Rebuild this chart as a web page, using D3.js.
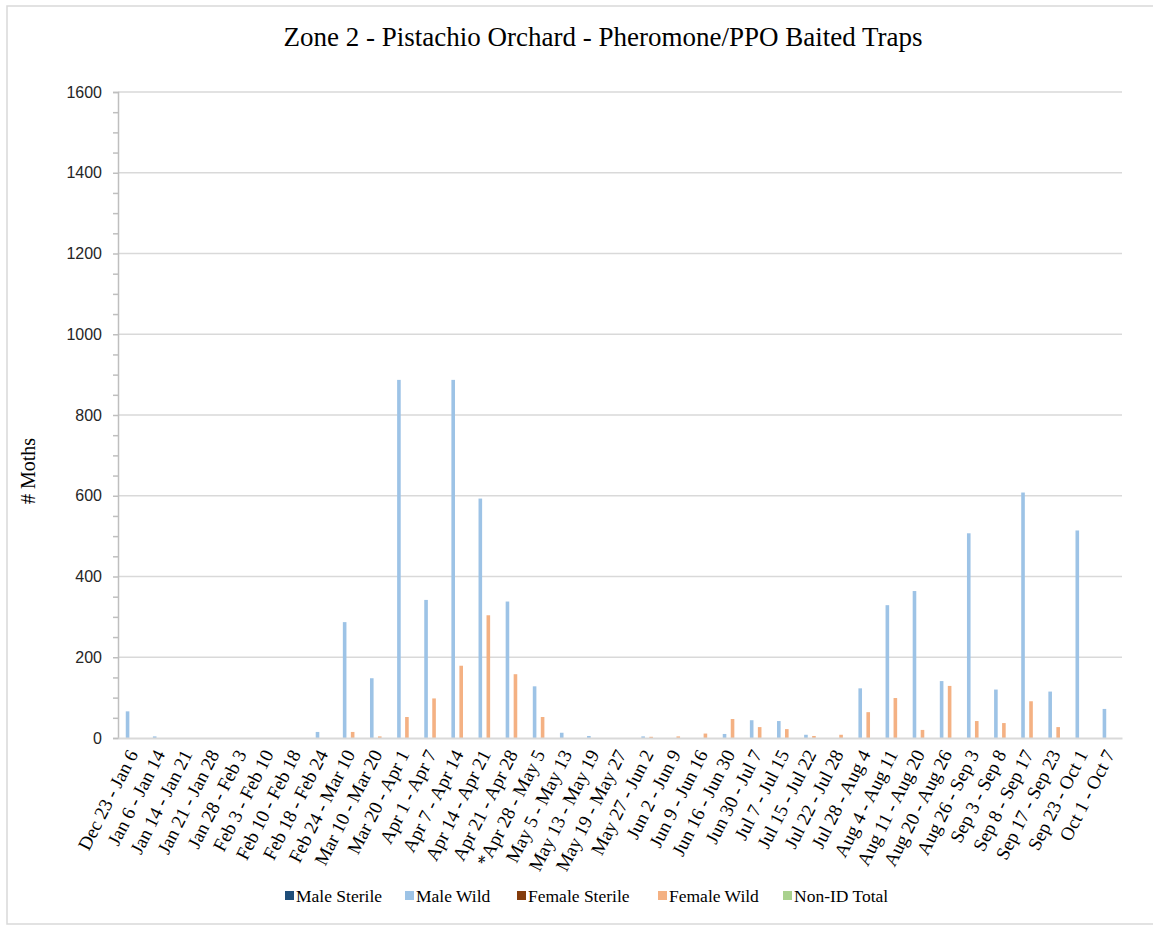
<!DOCTYPE html>
<html>
<head>
<meta charset="utf-8">
<script src="https://cdn.jsdelivr.net/npm/d3@7"></script>
<style>
  html, body { margin: 0; padding: 0; background: #fff; }
  svg { display: block; }
</style>
</head>
<body>
<svg id="chart" width="1153" height="925"></svg>
<script>
const titleText = "Zone 2 - Pistachio Orchard - Pheromone/PPO Baited Traps";
const yLabel = "# Moths";

const categories = [
  "Dec 23 - Jan 6", "Jan 6 - Jan 14", "Jan 14 - Jan 21", "Jan 21 - Jan 28",
  "Jan 28 - Feb 3", "Feb 3 - Feb 10", "Feb 10 - Feb 18", "Feb 18 - Feb 24",
  "Feb 24 - Mar 10", "Mar 10 - Mar 20", "Mar 20 - Apr 1", "Apr 1 - Apr 7",
  "Apr 7 - Apr 14", "Apr 14 - Apr 21", "Apr 21 - Apr 28", "*Apr 28 - May 5",
  "May 5 - May 13", "May 13 - May 19", "May 19 - May 27", "May 27 - Jun 2",
  "Jun 2 - Jun 9", "Jun 9 - Jun 16", "Jun 16 - Jun 30", "Jun 30 - Jul 7",
  "Jul 7 - Jul 15", "Jul 15 - Jul 22", "Jul 22 - Jul 28", "Jul 28 - Aug 4",
  "Aug 4 - Aug 11", "Aug 11 - Aug 20", "Aug 20 - Aug 26", "Aug 26 - Sep 3",
  "Sep 3 - Sep 8", "Sep 8 - Sep 17", "Sep 17 - Sep 23", "Sep 23 - Oct 1",
  "Oct 1 - Oct 7"
];

const seriesNames = ["Male Sterile", "Male Wild", "Female Sterile", "Female Wild", "Non-ID Total"];
const seriesColors = ["#1f4e79", "#9dc3e6", "#843c0c", "#f4b183", "#a9d18e"];

const maleSterile = [0,0,0,0,0,0,0,0,0,0,0,0,0,0,0,0,0,0,0,0,0,0,0,0,0,0,0,0,0,0,0,0,0,0,0,0,0];
const maleWild = [66,4,0,0,0,0,0,15,287,148,887,342,887,593,338,128,13,5,0,4,0,0,10,44,42,8,0,123,329,364,141,507,120,608,115,514,72];
const femaleSterile = [0,0,0,0,0,0,0,0,0,0,0,0,0,0,0,0,0,0,0,0,0,0,0,0,0,0,0,0,0,0,0,0,0,0,0,0,0];
const femaleWild = [0,0,0,0,0,0,0,0,15,4,52,98,179,304,158,52,0,0,0,3,4,11,47,27,22,5,8,64,99,20,129,42,37,91,27,0,0];
const nonIdTotal = [0,0,0,0,0,0,0,0,0,0,0,0,0,0,0,0,0,0,0,0,0,0,0,0,0,0,0,0,0,0,0,0,0,0,0,0,0];

const yTicks = [0, 200, 400, 600, 800, 1000, 1200, 1400, 1600];
const yMinorStep = 50;

const seriesValues = [maleSterile, maleWild, femaleSterile, femaleWild, nonIdTotal];

const svg = d3.select("#chart");
const margin = { left: 118, right: 1122, top: 92, bottom: 738 };

// chart border
svg.append("rect")
  .attr("x", 7).attr("y", 6)
  .attr("width", 1160).attr("height", 918)
  .attr("fill", "none").attr("stroke", "#d9d9d9").attr("stroke-width", 1.5);

const x0 = d3.scaleBand().domain(categories)
  .range([margin.left, margin.right])
  .paddingInner(0.263).paddingOuter(0.1315);
const x1 = d3.scaleBand().domain(seriesNames).range([0, x0.bandwidth()]).padding(0);
const y = d3.scaleLinear().domain([0, 1600]).range([margin.bottom, margin.top]);

// gridlines
svg.append("g")
  .selectAll("line")
  .data(yTicks.filter(d => d > 0))
  .join("line")
  .attr("x1", margin.left).attr("x2", margin.right)
  .attr("y1", d => y(d)).attr("y2", d => y(d))
  .attr("stroke", "#d9d9d9").attr("stroke-width", 1.5);

// bars
const data = categories.map((c, i) => ({ cat: c, vals: seriesNames.map((s, j) => ({ s, j, v: seriesValues[j][i] })) }));
svg.append("g")
  .selectAll("g")
  .data(data)
  .join("g")
  .attr("transform", d => `translate(${x0(d.cat)},0)`)
  .selectAll("rect")
  .data(d => d.vals)
  .join("rect")
  .attr("x", d => x1(d.s) + 0.2)
  .attr("width", x1.bandwidth() - 0.4)
  .attr("y", d => y(d.v))
  .attr("height", d => y(0) - y(d.v))
  .attr("fill", d => seriesColors[d.j]);

// y axis
const minorTicks = d3.range(0, 1601, yMinorStep);
const yAxis = d3.axisLeft(y).tickValues(minorTicks).tickSize(5).tickFormat(d => yTicks.includes(d) ? d : "");
const gy = svg.append("g").attr("transform", `translate(${margin.left},0)`).call(yAxis);
gy.select(".domain").attr("stroke", "#bfbfbf").attr("stroke-width", 1.5);
gy.selectAll(".tick line").attr("stroke", "#bfbfbf").attr("stroke-width", 1.5);
gy.selectAll(".tick text")
  .attr("x", -16)
  .attr("fill", "#262626")
  .style("font-family", "'Liberation Sans', Arial, sans-serif")
  .style("font-size", "16px");

// x axis
const xAxis = d3.axisBottom(x0).tickSize(0).tickFormat("");
const gx = svg.append("g").attr("transform", `translate(0,${margin.bottom})`).call(xAxis);
gx.select(".domain").attr("stroke", "#d9d9d9").attr("stroke-width", 2);

// x labels
svg.append("g")
  .selectAll("text")
  .data(categories)
  .join("text")
  .attr("transform", d => `translate(${x0(d) + x0.bandwidth() / 2 + 1},751) rotate(-63)`)
  .attr("text-anchor", "end")
  .attr("dy", "0.35em")
  .style("font-family", "'Liberation Serif', 'Times New Roman', serif")
  .style("font-size", "19px")
  .attr("fill", "#000")
  .text(d => d);

// title
svg.append("text")
  .attr("x", 603).attr("y", 46)
  .attr("text-anchor", "middle")
  .style("font-family", "'Liberation Serif', 'Times New Roman', serif")
  .style("font-size", "27px")
  .attr("fill", "#000")
  .text(titleText);

// y label
svg.append("text")
  .attr("transform", "translate(28,471) rotate(-90)")
  .attr("text-anchor", "middle")
  .attr("dy", "0.35em")
  .style("font-family", "'Liberation Serif', 'Times New Roman', serif")
  .style("font-size", "20px")
  .attr("fill", "#000")
  .text(yLabel);

// legend
const legendX = [285, 405, 517, 658, 783];
const lg = svg.append("g").selectAll("g")
  .data(seriesNames)
  .join("g")
  .attr("transform", (d, i) => `translate(${legendX[i]},896)`);
lg.append("rect").attr("x", 0).attr("y", -5).attr("width", 9).attr("height", 9)
  .attr("fill", (d, i) => seriesColors[i]);
lg.append("text").attr("x", 11).attr("y", 0).attr("dy", "0.35em")
  .style("font-family", "'Liberation Serif', 'Times New Roman', serif")
  .style("font-size", "17.5px")
  .attr("fill", "#000")
  .text(d => d);
</script>
</body>
</html>
